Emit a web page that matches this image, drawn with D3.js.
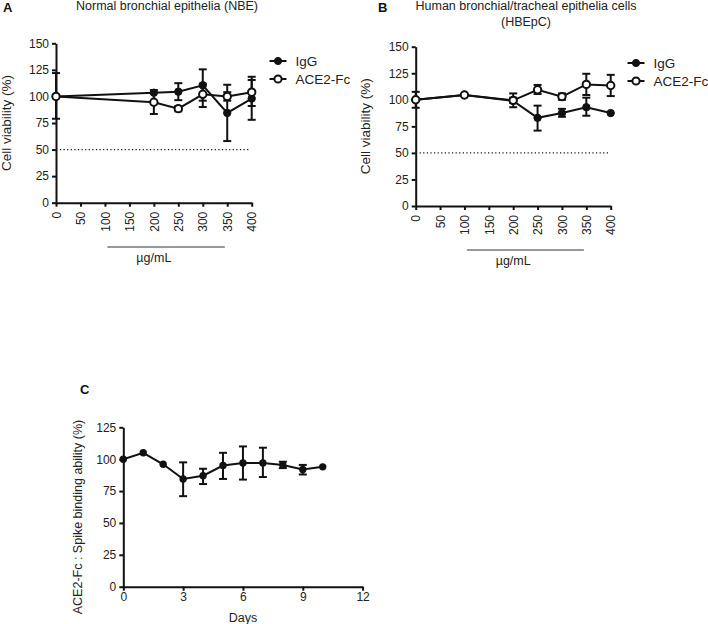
<!DOCTYPE html>
<html><head><meta charset="utf-8">
<script src="https://cdn.jsdelivr.net/npm/d3@7"></script>
<style>
body{margin:0;background:#fff;}
svg{font-family:"Liberation Sans",Arial,sans-serif;}
</style></head>
<body>
<svg id="c" width="708" height="624"></svg>
<script>
// ---- Data ----
// Panel A: Normal bronchial epithelia (NBE)
const aDose = [0, 200, 250, 300, 350, 400];
const aIgG = [100, 103.5, 104.5, 110.5, 84.5, 98];
const aIgGLo = [79, 103.5, 96.5, 96, 58, 78];
const aIgGHi = [122, 103.5, 112.5, 125.5, 111, 118.5];
const aACE = [100, 94.5, 88.5, 102, 100, 104];
const aACELo = [100, 83.5, 86, 90, 96, 91];
const aACEHi = [100, 106, 91, 112, 104, 115.5];

// Panel B: Human bronchial/tracheal epithelia cells (HBEpC)
const bDose = [0, 100, 200, 250, 300, 350, 400];
const bIgG = [100, 104.5, 99, 83, 87.5, 93, 87.5];
const bIgGLo = [100, 104.5, 93, 71, 84, 85, 87.5];
const bIgGHi = [100, 104.5, 106, 94.5, 91.5, 102, 87.5];
const bACE = [100, 104.5, 99.5, 109.5, 103, 114.5, 113.5];
const bACELo = [92.5, 104.5, 97, 105.5, 100, 104.5, 103.5];
const bACEHi = [107.5, 104.5, 102, 114, 106, 124.5, 123.5];

// Panel C: ACE2-Fc spike binding ability over days
const cDays = [0, 1, 2, 3, 4, 5, 6, 7, 8, 9, 10];
const cVal = [100, 105, 96, 84.5, 87, 95, 97, 97, 95.5, 92, 94];
const cLo = [100, 105, 96, 71, 80.5, 84.5, 84, 86, 93, 88, 94];
const cHi = [100, 105, 96, 97.5, 92.5, 105, 110, 109, 98, 95.5, 94];

const doseTicks = [0, 50, 100, 150, 200, 250, 300, 350, 400];
const viabTicks = [0, 25, 50, 75, 100, 125, 150];
const dayTicks = [0, 3, 6, 9, 12];
const bindTicks = [0, 25, 50, 75, 100, 125];

const svg = d3.select("#c");

function styleAxis(g){
  g.select(".domain").attr("stroke","#111").attr("stroke-width",2);
  g.selectAll(".tick line").attr("stroke","#111").attr("stroke-width",2);
  g.selectAll(".tick text").attr("fill","#222").style("font-size","12px");
}

function errorBars(g, x, y, xs, lo, hi, capW){
  xs.forEach((d,i)=>{
    if (hi[i]-lo[i] < 0.5) return;
    g.append("line").attr("x1",x(d)).attr("x2",x(d)).attr("y1",y(lo[i])).attr("y2",y(hi[i]))
      .attr("stroke","#111").attr("stroke-width",2);
    [lo[i],hi[i]].forEach(v=>{
      g.append("line").attr("x1",x(d)-capW).attr("x2",x(d)+capW).attr("y1",y(v)).attr("y2",y(v))
        .attr("stroke","#111").attr("stroke-width",2);
    });
  });
}

function series(g, x, y, xs, ys, lo, hi, open){
  const line = d3.line().x((d,i)=>x(xs[i])).y(d=>y(d));
  g.append("path").datum(ys).attr("d",line).attr("fill","none").attr("stroke","#111").attr("stroke-width",2);
  errorBars(g, x, y, xs, lo, hi, 4);
  g.selectAll(null).data(ys).enter().append("circle")
    .attr("cx",(d,i)=>x(xs[i])).attr("cy",d=>y(d))
    .attr("r", 3.7)
    .attr("fill", open ? "#fff" : "#111")
    .attr("stroke","#111").attr("stroke-width", open ? 2 : 1);
}

function dosePanel(opt){
  const x = d3.scaleLinear().domain([0,400]).range([opt.x0, opt.x1]);
  const y = d3.scaleLinear().domain([0,150]).range([opt.y0, opt.y1]);
  const g = svg.append("g");
  g.append("line").attr("x1",x(8)).attr("x2",x(398)).attr("y1",y(50)).attr("y2",y(50))
    .attr("stroke","#111").attr("stroke-width",1.2).attr("stroke-dasharray","1.2,2.4");
  const ya = g.append("g").attr("transform",`translate(${opt.x0},0)`)
    .call(d3.axisLeft(y).tickValues(viabTicks).tickSize(4).tickPadding(3).tickSizeOuter(0));
  styleAxis(ya);
  const xa = g.append("g").attr("transform",`translate(0,${opt.y0})`)
    .call(d3.axisBottom(x).tickValues(doseTicks).tickSize(4).tickSizeOuter(0));
  styleAxis(xa);
  xa.selectAll(".tick text").attr("transform","rotate(-90)").attr("text-anchor","end")
    .attr("x",-9).attr("y",0).attr("dy","0.35em");
  series(g, x, y, opt.dose, opt.igg, opt.iggLo, opt.iggHi, false);
  series(g, x, y, opt.dose, opt.ace, opt.aceLo, opt.aceHi, true);
  g.append("line").attr("x1",x(105)).attr("x2",x(345)).attr("y1",opt.uy).attr("y2",opt.uy)
    .attr("stroke","#333").attr("stroke-width",1);
  g.append("text").attr("x",x(200)).attr("y",opt.uy+15).attr("text-anchor","middle")
    .style("font-size","12.5px").attr("fill","#222").text("µg/mL");
  g.append("text").attr("transform",`translate(${opt.ylx},${(opt.y0+opt.y1)/2}) rotate(-90)`)
    .attr("text-anchor","middle").style("font-size","13.5px").attr("fill","#222").text("Cell viability (%)");
  [["IgG",false],["ACE2-Fc",true]].forEach((d,i)=>{
    const ly = opt.ly + i*18;
    g.append("line").attr("x1",opt.lx).attr("x2",opt.lx+17).attr("y1",ly).attr("y2",ly)
      .attr("stroke","#111").attr("stroke-width",2);
    g.append("circle").attr("cx",opt.lx+8.5).attr("cy",ly).attr("r",3.6)
      .attr("fill",d[1]?"#fff":"#111").attr("stroke","#111").attr("stroke-width",d[1]?2:1);
    g.append("text").attr("x",opt.lx+26).attr("y",ly).attr("dy","0.35em")
      .style("font-size","13.5px").attr("fill","#222").text(d[0]);
  });
  opt.title.forEach((t,i)=>{
    g.append("text").attr("x",opt.tx).attr("y",opt.ty+i*16).attr("text-anchor","middle")
      .style("font-size","12.5px").attr("fill","#222").text(t);
  });
  g.append("text").attr("x",opt.px).attr("y",opt.py).style("font-size","13px")
    .style("font-weight","bold").attr("fill","#111").text(opt.letter);
}

dosePanel({x0:56, x1:251.7, y0:202.7, y1:43.3, dose:aDose,
  igg:aIgG, iggLo:aIgGLo, iggHi:aIgGHi, ace:aACE, aceLo:aACELo, aceHi:aACEHi,
  uy:247, ylx:11, lx:269.5, ly:61, title:["Normal bronchial epithelia (NBE)"], tx:167, ty:10,
  letter:"A", px:3, py:12});

dosePanel({x0:415.7, x1:610.7, y0:206, y1:46.7, dose:bDose,
  igg:bIgG, iggLo:bIgGLo, iggHi:bIgGHi, ace:bACE, aceLo:bACELo, aceHi:bACEHi,
  uy:250, ylx:370, lx:627.5, ly:63, title:["Human bronchial/tracheal epithelia cells","(HBEpC)"], tx:526, ty:10,
  letter:"B", px:378, py:12});

(function(){
  const x = d3.scaleLinear().domain([0,12]).range([123.3, 362.6]);
  const y = d3.scaleLinear().domain([0,125]).range([586.7, 427.3]);
  const g = svg.append("g");
  const ya = g.append("g").attr("transform","translate(123.3,0)")
    .call(d3.axisLeft(y).tickValues(bindTicks).tickSize(4).tickPadding(3).tickSizeOuter(0));
  styleAxis(ya);
  const xa = g.append("g").attr("transform","translate(0,586.7)")
    .call(d3.axisBottom(x).tickValues(dayTicks).tickSize(4).tickPadding(2).tickSizeOuter(0));
  styleAxis(xa);
  const line = d3.line().x((d,i)=>x(cDays[i])).y(d=>y(d));
  g.append("path").datum(cVal).attr("d",line).attr("fill","none").attr("stroke","#111").attr("stroke-width",2);
  errorBars(g, x, y, cDays, cLo, cHi, 4);
  g.selectAll(null).data(cVal).enter().append("circle")
    .attr("cx",(d,i)=>x(cDays[i])).attr("cy",d=>y(d)).attr("r",3.7).attr("fill","#111");
  g.append("text").attr("x",243).attr("y",622).attr("text-anchor","middle")
    .style("font-size","12.5px").attr("fill","#222").text("Days");
  g.append("text").attr("transform",`translate(82,${(586.7+427.3)/2+10}) rotate(-90)`)
    .attr("text-anchor","middle").style("font-size","12.5px").attr("fill","#222")
    .text("ACE2-Fc : Spike binding ability (%)");
  g.append("text").attr("x",80).attr("y",394).style("font-size","13px")
    .style("font-weight","bold").attr("fill","#111").text("C");
})();
</script>
</body></html>
